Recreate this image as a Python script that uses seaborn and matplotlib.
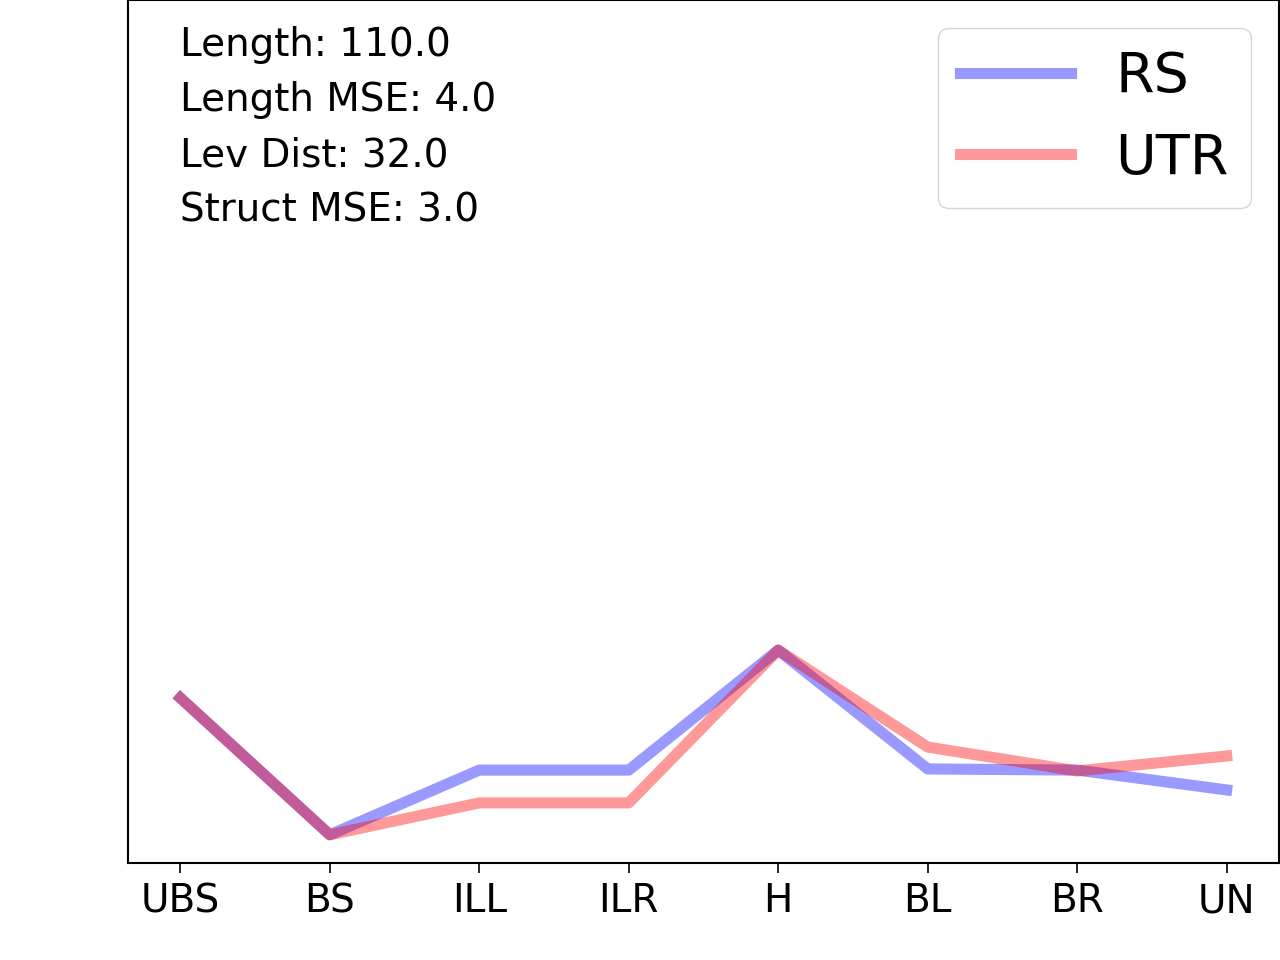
import matplotlib
matplotlib.use("Agg")
import matplotlib.pyplot as plt
import matplotlib.transforms as mtransforms
import seaborn as sns
import pandas as pd

categories = ["UBS", "BS", "ILL", "ILR", "H", "BL", "BR", "UN"]
rs_values = [5.74, 0.98, 3.23, 3.23, 7.40, 3.27, 3.23, 2.54]
utr_values = [5.74, 0.98, 2.09, 2.09, 7.40, 4.03, 3.20, 3.72]
series_names = ["RS", "UTR"]
stats_text = ["Length: 110.0", "Length MSE: 4.0", "Lev Dist: 32.0", "Struct MSE: 3.0"]

df = pd.DataFrame({
    "element": categories * 2,
    "value": rs_values + utr_values,
    "series": [series_names[0]] * len(categories) + [series_names[1]] * len(categories),
})

plt.rcParams["font.family"] = ["DejaVu Sans"]
fig = plt.figure(figsize=(12.8, 9.6), dpi=100)
ax = fig.add_axes([128 / 1280, 97 / 960, 1151 / 1280, 863 / 960])

sns.lineplot(data=df, x="element", y="value", hue="series",
             palette={"RS": "blue", "UTR": "red"}, alpha=0.4, linewidth=8,
             sort=False, ax=ax, legend=True)

ax.set_xlim(-0.35, 7.35)
ax.set_ylim(0, 30)
ax.set_yticks([])
ax.set_xlabel("")
ax.set_ylabel("")
ax.tick_params(axis="x", labelsize=28, length=7, width=1.2, pad=7)
for sp in ax.spines.values():
    sp.set_color("black")
    sp.set_linewidth(1.5)

trans = mtransforms.blended_transform_factory(ax.transData, ax.transAxes)
ax.text(0, 0.970, "\n".join(stats_text), transform=trans, fontsize=28,
        va="top", ha="left", linespacing=1.575)

leg = ax.legend(loc="upper right", fontsize=40, title=None)
for line in leg.get_lines():
    line.set_linewidth(8)
    line.set_alpha(0.4)

fig.savefig("out.png", dpi=100)
